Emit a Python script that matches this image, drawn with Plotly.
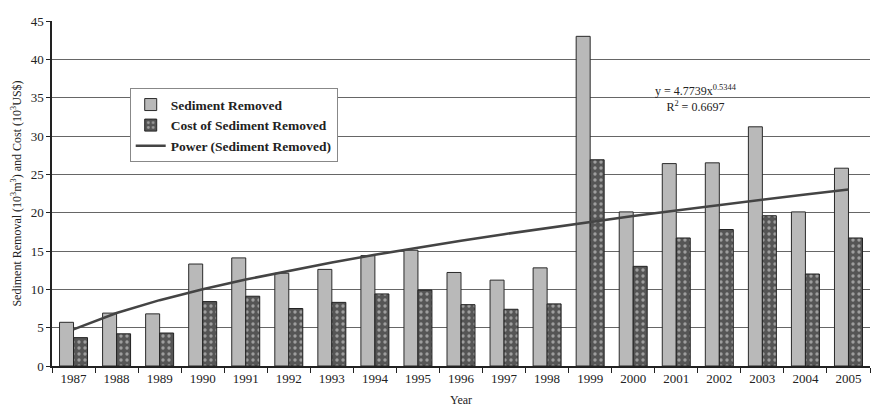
import numpy as np
import plotly.graph_objects as go

# Annual dredging record
years = ["1987", "1988", "1989", "1990", "1991", "1992", "1993", "1994", "1995", "1996",
         "1997", "1998", "1999", "2000", "2001", "2002", "2003", "2004", "2005"]
sediment_removed = [5.7, 6.9, 6.8, 13.3, 14.1, 12.1, 12.6, 14.4, 15.1, 12.2,
                    11.2, 12.8, 43.0, 20.1, 26.4, 26.5, 31.2, 20.1, 25.8]
cost_removed = [3.7, 4.2, 4.3, 8.4, 9.1, 7.5, 8.3, 9.4, 9.9, 8.0,
                7.4, 8.1, 26.9, 13.0, 16.7, 17.8, 19.6, 12.0, 16.7]

# Power trendline fitted to sediment removed (x = 1, 2, ... by year index)
power_a = 4.7739
power_b = 0.5344
r_squared = 0.6697
x_index = np.arange(1, len(years) + 1)
power_fit = power_a * x_index ** power_b

serif = "Liberation Serif, Times New Roman, serif"

fig = go.Figure()
fig.add_trace(go.Bar(
    x=years, y=sediment_removed, name="Sediment Removed",
    marker=dict(color="#b9b9b9", line=dict(color="#2a2a2a", width=1)),
))
fig.add_trace(go.Bar(
    x=years, y=cost_removed, name="Cost of Sediment Removed",
    marker=dict(color="#555555", line=dict(color="#222222", width=1),
                pattern=dict(shape=".", fgcolor="#e8e8e8", bgcolor="#555555",
                             size=6, solidity=0.25)),
))
fig.add_trace(go.Scatter(
    x=years, y=power_fit, name="Power (Sediment Removed)", mode="lines",
    line=dict(color="#444444", width=2.5),
))

fig.add_annotation(
    x=0.787, y=0.775, xref="paper", yref="paper", xanchor="center", yanchor="middle",
    showarrow=False,
    text=f"y = {power_a}x<sup>{power_b}</sup><br>R<sup>2</sup> = {r_squared}",
    font=dict(family=serif, size=12, color="#222222"), align="center",
)

fig.update_layout(
    width=874, height=408,
    margin=dict(l=52, r=4, t=21, b=42),
    paper_bgcolor="white", plot_bgcolor="white",
    barmode="group", bargap=0.35, bargroupgap=0.0,
    font=dict(family=serif, color="#222222"),
    legend=dict(
        x=0.095, y=0.805, xanchor="left", yanchor="top",
        bgcolor="white", bordercolor="#888888", borderwidth=1,
        font=dict(family=serif, size=13.5, color="#222222", weight="bold"),
        tracegroupgap=0, itemwidth=30,
    ),
    showlegend=True,
)
fig.update_xaxes(
    type="category", showgrid=False, showline=True, linecolor="#222222", linewidth=1.5,
    ticks="outside", tickson="boundaries", ticklen=5, tickcolor="#222222",
    tickfont=dict(family=serif, size=13, color="#222222"),
    title=dict(text="Year", font=dict(family=serif, size=12, color="#222222"), standoff=10),
)
fig.update_yaxes(
    range=[0, 45], dtick=5, showgrid=True, gridcolor="#666666", gridwidth=1,
    showline=True, linecolor="#222222", linewidth=1.5, ticks="outside", ticklen=4,
    tickcolor="#222222", zeroline=False,
    tickfont=dict(family=serif, size=13, color="#222222"),
    title=dict(text="Sediment Removal (10<sup>3</sup>m<sup>3</sup>) and Cost (10<sup>3</sup>US$)",
               font=dict(family=serif, size=12, color="#222222"), standoff=6),
)

fig.write_html("out.html")
